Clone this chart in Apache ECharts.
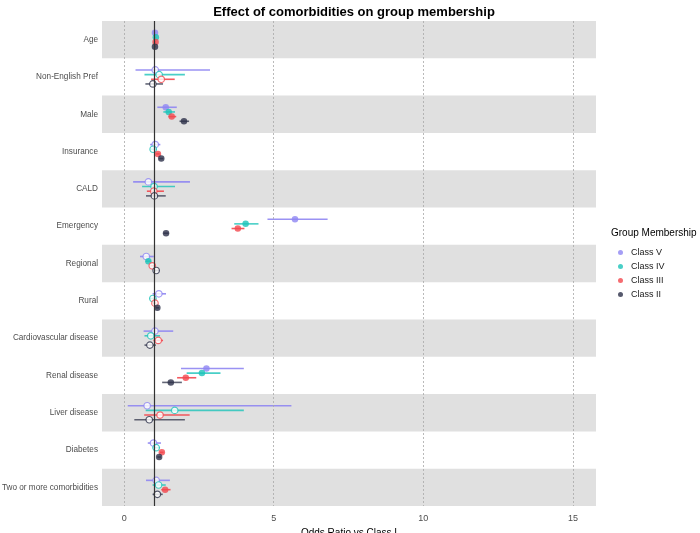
<!DOCTYPE html>
<html>
<head>
<meta charset="utf-8">
<script src="https://cdn.jsdelivr.net/npm/echarts@6/dist/echarts.min.js"></script>
<style>html,body{margin:0;padding:0;background:#fff}#c{width:700px;height:533px}</style>
</head>
<body>
<div id="c"></div>
<script>
const categories = ['Age','Non-English Pref','Male','Insurance','CALD','Emergency','Regional','Rural','Cardiovascular disease','Renal disease','Liver disease','Diabetes','Two or more comorbidities'];
const classNames = ['Class V','Class IV','Class III','Class II'];
const xTicks = [0, 5, 10, 15];

const classV_or  = [1.03,1.04,1.39,1.04,0.81,5.71,0.74,1.16,1.03,2.75,0.77,0.98,1.07];
const classV_lo  = [1.01,0.38,1.11,0.87,0.30,4.79,0.53,0.95,0.65,1.90,0.12,0.79,0.73];
const classV_hi  = [1.05,2.87,1.76,1.21,2.20,6.80,0.99,1.40,1.64,4.00,5.59,1.23,1.53];
const classV_sig = [1,0,1,0,0,1,0,0,0,1,0,0,0];

const classIV_or  = [1.06,1.17,1.49,0.97,1.00,4.06,0.81,0.96,0.89,2.60,1.69,1.07,1.15];
const classIV_lo  = [1.04,0.68,1.31,0.90,0.60,3.68,0.72,0.85,0.68,2.09,0.72,0.95,0.95];
const classIV_hi  = [1.08,2.03,1.70,1.09,1.70,4.49,0.90,1.07,1.20,3.22,4.00,1.20,1.39];
const classIV_sig = [1,0,1,0,0,1,1,0,0,1,0,0,0];

const classIII_or  = [1.05,1.24,1.59,1.13,0.99,3.80,0.94,1.03,1.14,2.06,1.20,1.26,1.37];
const classIII_lo  = [1.03,0.90,1.48,1.07,0.76,3.59,0.88,0.97,0.98,1.77,0.67,1.20,1.24];
const classIII_hi  = [1.07,1.69,1.74,1.19,1.33,4.02,1.00,1.08,1.30,2.41,2.19,1.32,1.55];
const classIII_sig = [1,0,1,1,0,1,0,0,0,1,0,1,1];

const classII_or  = [1.03,0.96,2.00,1.24,1.01,1.40,1.07,1.11,0.86,1.56,0.84,1.17,1.11];
const classII_lo  = [1.01,0.71,1.85,1.17,0.73,1.31,0.98,1.05,0.68,1.27,0.34,1.11,0.95];
const classII_hi  = [1.05,1.30,2.17,1.31,1.39,1.49,1.17,1.17,1.06,1.93,2.03,1.23,1.29];
const classII_sig = [1,0,1,1,0,1,0,1,0,1,0,1,0];

const colors = ['#8F86F2','#1CC3B9','#F2474E','#2C3048'];
const barColors = ['rgba(143,134,242,0.9)','rgba(28,195,185,0.8)','rgba(242,71,78,0.9)','rgba(60,64,84,0.8)'];
const classData = [
  [classV_or, classV_lo, classV_hi, classV_sig],
  [classIV_or, classIV_lo, classIV_hi, classIV_sig],
  [classIII_or, classIII_lo, classIII_hi, classIII_sig],
  [classII_or, classII_lo, classII_hi, classII_sig]
];
const offsets = [-0.1875, -0.0625, 0.0625, 0.1875];
const FONT = 'Liberation Sans, Arial, Helvetica, sans-serif';

const chart = echarts.init(document.getElementById('c'), null, {renderer: 'canvas'});

const series = [];
const bands = [];
for (let i = 0; i < categories.length; i += 2) {
  bands.push([{yAxis: i}, {yAxis: i + 1}]);
}
series.push({
  type: 'scatter', xAxisIndex: 0, yAxisIndex: 1, data: [], silent: true, z: 0,
  markArea: { silent: true, itemStyle: { color: '#E0E0E0' }, data: bands },
  markLine: {
    silent: true, symbol: 'none', label: {show: false},
    data: xTicks.map(v => ({ xAxis: v, lineStyle: { color: '#A8A8A8', type: [2, 2], width: 0.8 } }))
      .concat([{ xAxis: 1, lineStyle: { color: '#333333', type: 'solid', width: 1.2 } }])
  }
});

classData.forEach((cd, k) => {
  const [or, lo, hi, sig] = cd;
  const barData = categories.map((c, i) => [lo[i], hi[i], i + 0.5 + offsets[k]]);
  series.push({
    type: 'custom', name: classNames[k] + ' CI', xAxisIndex: 0, yAxisIndex: 1, z: 3,
    silent: true,
    renderItem: function (params, api) {
      const p1 = api.coord([api.value(0), api.value(2)]);
      const p2 = api.coord([api.value(1), api.value(2)]);
      return { type: 'line', shape: { x1: p1[0], y1: p1[1], x2: p2[0], y2: p2[1] },
        style: { stroke: barColors[k], lineWidth: 1.6 } };
    },
    encode: { x: [0, 1], y: 2 },
    data: barData
  });
  const pts = categories.map((c, i) => ({
    value: [or[i], i + 0.5 + offsets[k]],
    itemStyle: sig[i] ? { color: colors[k] } : { color: '#FFFFFF', borderColor: colors[k], borderWidth: 1.2 }
  }));
  series.push({
    type: 'scatter', name: classNames[k], xAxisIndex: 0, yAxisIndex: 1, z: 4,
    symbol: 'circle', symbolSize: 6.5,
    itemStyle: { color: colors[k] },
    data: pts
  });
});

chart.setOption({
  animation: false,
  backgroundColor: '#FFFFFF',
  textStyle: { fontFamily: FONT },
  title: {
    text: 'Effect of comorbidities on group membership',
    left: 349, top: 1, textAlign: 'center',
    textStyle: { fontSize: 13, fontWeight: 'bold', color: '#000', fontFamily: FONT }
  },
  legend: {
    data: classNames, orient: 'vertical', left: 613, top: 243,
    icon: 'circle', itemWidth: 5, itemHeight: 5, itemGap: 5,
    textStyle: { fontSize: 9, color: '#1a1a1a', fontFamily: FONT, padding: [0, 0, 0, 3] }
  },
  graphic: [{
    type: 'text', left: 611, top: 228,
    style: { text: 'Group Membership', fontSize: 10, fill: '#000', fontFamily: FONT }
  }],
  grid: { left: 102, right: 104, top: 21, bottom: 27, containLabel: false, outerBoundsMode: 'none' },
  xAxis: [{
    type: 'value', min: -0.74, max: 15.77,
    name: 'Odds Ratio vs Class I', nameLocation: 'middle', nameGap: 15,
    nameTextStyle: { fontSize: 10, color: '#000', fontFamily: FONT },
    axisLine: { show: false }, axisTick: { show: false }, splitLine: { show: false },
    axisLabel: { customValues: xTicks, fontSize: 9, color: '#4D4D4D', margin: 8, fontFamily: FONT }
  }],
  yAxis: [{
    type: 'category', data: categories, inverse: true, boundaryGap: true,
    axisLine: { show: false }, axisTick: { show: false }, splitLine: { show: false },
    axisLabel: { fontSize: 8.2, color: '#4D4D4D', margin: 4, fontFamily: FONT }
  }, {
    type: 'value', min: 0, max: 13, inverse: true, show: false,
    splitLine: { show: false }
  }],
  series: series
});
</script>
</body>
</html>
